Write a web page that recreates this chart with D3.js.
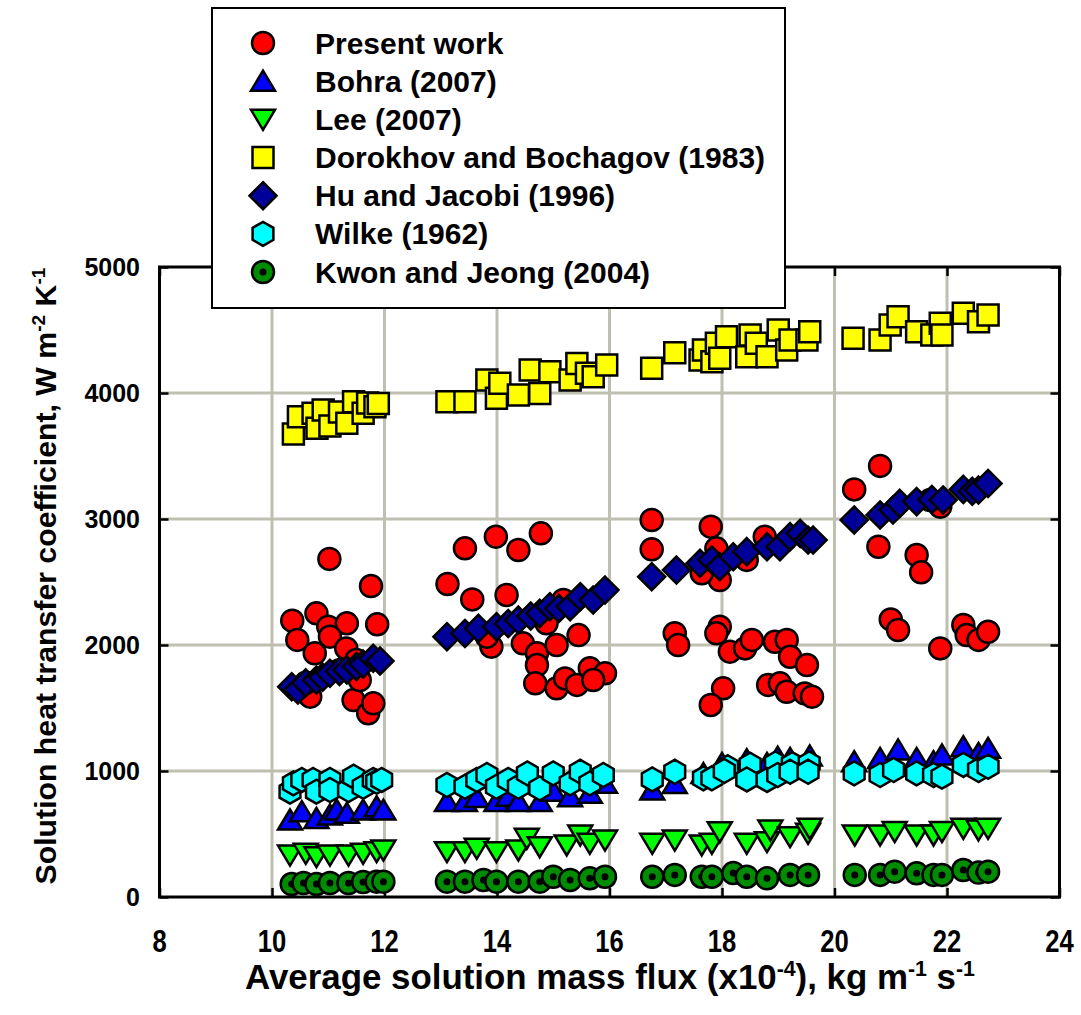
<!DOCTYPE html>
<html>
<head>
<meta charset="utf-8">
<script src="https://cdn.jsdelivr.net/npm/d3@7"></script>
<style>
  html, body { margin: 0; padding: 0; background: #fff; }
  svg { display: block; font-family: "Liberation Sans", Arial, sans-serif; font-weight: bold; }
</style>
</head>
<body>
<svg id="chart" width="1081" height="1015"></svg>
<script>
// Solution heat transfer coefficient vs. average solution mass flux
const xTicks = [8, 10, 12, 14, 16, 18, 20, 22, 24];
const yTicks = [0, 1000, 2000, 3000, 4000, 5000];

const seriesNames = [
  "Present work", "Bohra (2007)", "Lee (2007)", "Dorokhov and Bochagov (1983)",
  "Hu and Jacobi (1996)", "Wilke (1962)", "Kwon and Jeong (2004)"
];

const presentWork = [
  [11.02,2683],[11.76,2468],[11.87,2164],[10.36,2193],[10.79,2251],[11.0,2145],[11.33,2172],
  [10.45,2040],[11.03,2066],[10.76,1934],[11.32,1973],[11.5,1881],[10.68,1590],[11.45,1563],
  [11.71,1458],[11.8,1537],[11.56,1722],[10.6,1700],[11.2,1800],
  [13.43,2767],[13.98,2860],[14.38,2754],[14.78,2886],[13.12,2484],[13.56,2362],[14.17,2397],
  [13.9,1987],[14.46,2013],[14.71,1934],[15.06,2000],[15.45,2079],[14.71,1841],[14.68,1696],
  [15.06,1656],[15.21,1735],[15.42,1683],[15.65,1815],[15.92,1775],[15.71,1722],[15.18,2357],
  [14.88,2172],[13.82,2066],
  [16.75,2992],[16.75,2759],[17.8,2939],[17.9,2767],[17.96,2516],[17.64,2569],[18.76,2860],
  [18.44,2675],[17.16,2093],[17.22,2000],[17.96,2145],[17.9,2093],[18.14,1947],[18.41,1973],
  [18.53,2040],[18.94,2026],[19.15,2040],[19.21,1907],[19.51,1841],[18.82,1683],[19.03,1696],
  [19.15,1629],[19.47,1616],[19.6,1590],[18.02,1656],[17.8,1524],
  [20.81,3421],[20.35,3235],[20.78,2780],[21.46,2714],[21.54,2577],[21.0,2203],[21.13,2119],
  [21.88,1973],[22.29,2159],[22.35,2079],[22.56,2040],[22.73,2105],[21.88,3098],[21.7,3150]
];

const bohra = [
  [10.32,611],[10.53,677],[10.79,624],[11.03,651],[11.15,690],[11.33,664],[11.62,690],[11.86,717],[11.98,690],
  [13.11,757],[13.43,757],[13.64,790],[13.99,757],[14.2,800],[14.38,757],[14.76,757],[15.0,840],[15.3,796],[15.65,823],[15.92,902],
  [16.76,849],[17.16,900],[17.67,980],[18.0,1060],[18.44,1090],[18.8,1060],[18.99,1110],[19.21,1100],[19.56,1120],
  [20.35,1074],[20.81,1100],[21.13,1167],[21.46,1100],[21.76,1074],[21.91,1127],[22.29,1193],[22.56,1140],[22.73,1180]
];

const lee = [
  [10.32,333],[10.6,347],[10.79,320],[11.03,333],[11.36,333],[11.62,347],[11.86,360],[11.98,373],
  [13.11,360],[13.43,360],[13.64,386],[13.99,360],[14.38,373],[14.53,466],[14.76,399],[15.24,413],[15.48,492],[15.65,426],[15.92,452],
  [16.76,426],[17.16,452],[17.64,413],[17.82,426],[17.96,518],[18.44,426],[18.8,439],[18.86,532],[19.21,479],[19.53,505],[19.56,545],
  [20.36,492],[20.81,492],[21.07,519],[21.46,492],[21.76,492],[21.91,519],[22.29,545],[22.56,532],[22.73,545]
];

const dorokhov = [
  [10.38,3675],[10.47,3812],[10.73,3839],[10.8,3720],[10.91,3865],[11.03,3738],[11.2,3850],[11.33,3759],
  [11.45,3931],[11.62,3839],[11.7,3920],[11.83,3891],[11.89,3917],
  [13.11,3931],[13.43,3931],[13.82,4103],[13.99,3958],[14.05,4077],[14.38,3984],[14.59,4183],[14.76,3997],
  [14.94,4169],[15.3,4103],[15.42,4235],[15.59,4156],[15.71,4129],[15.95,4222],
  [16.75,4196],[17.16,4320],[17.61,4262],[17.67,4341],[17.82,4249],[17.9,4394],[17.96,4275],[18.08,4447],
  [18.44,4288],[18.5,4460],[18.61,4394],[18.8,4288],[19.0,4500],[19.15,4341],[19.21,4421],[19.51,4421],[19.56,4487],
  [20.33,4434],[20.81,4421],[20.99,4540],[21.13,4606],[21.46,4487],[21.73,4460],[21.88,4553],[21.91,4460],
  [22.29,4632],[22.56,4566],[22.73,4619]
];

const huJacobi = [
  [10.35,1669],[10.46,1643],[10.6,1700],[10.79,1722],[10.9,1745],[11.03,1775],[11.2,1790],[11.33,1802],
  [11.5,1830],[11.62,1849],[11.8,1894],[11.92,1873],
  [13.11,2066],[13.43,2092],[13.67,2132],[13.99,2145],[14.2,2170],[14.38,2198],[14.6,2230],[14.76,2251],
  [14.94,2304],[15.1,2290],[15.3,2304],[15.48,2383],[15.71,2357],[15.92,2436],
  [16.75,2542],[17.19,2595],[17.61,2648],[17.82,2675],[17.96,2621],[18.2,2700],[18.44,2741],[18.8,2780],
  [19.03,2780],[19.21,2860],[19.39,2886],[19.53,2833],[19.62,2833],
  [20.35,2992],[20.81,3032],[21.04,3071],[21.16,3124],[21.46,3138],[21.73,3155],[21.93,3151],[22.29,3235],
  [22.45,3220],[22.56,3230],[22.73,3282]
];

const wilke = [
  [10.32,836],[10.38,902],[10.53,929],[10.73,929],[10.79,836],[11.03,929],[11.03,849],[11.36,849],[11.45,955],
  [11.62,875],[11.8,929],[11.86,915],[11.95,929],
  [13.11,889],[13.43,875],[13.64,929],[13.82,968],[13.99,875],[14.2,929],[14.38,875],[14.54,981],[14.76,862],
  [15.0,981],[15.3,902],[15.48,994],[15.65,902],[15.89,968],
  [16.76,933],[17.16,994],[18.1,1030],[18.5,1050],[18.95,1060],[19.25,1055],[19.55,1060],
  [17.67,942],[17.82,942],[18.04,1000],[18.44,933],[18.8,929],[18.99,968],[19.21,994],[19.53,994],
  [20.35,981],[20.81,968],[21.05,1008],[21.46,981],[21.76,968],[21.91,955],[22.29,1048],[22.56,1008],[22.73,1034]
];

const kwonJeong = [
  [10.35,103],[10.56,111],[10.79,103],[11.03,111],[11.36,111],[11.62,119],[11.86,122],[11.98,122],
  [13.11,122],[13.43,122],[13.76,135],[13.99,122],[14.38,122],[14.76,122],[15.0,161],[15.3,135],[15.65,148],[15.92,161],
  [16.76,161],[17.16,175],[17.64,161],[17.82,161],[18.2,190],[18.44,161],[18.8,148],[19.21,175],[19.53,175],
  [20.36,175],[20.81,175],[21.07,201],[21.46,188],[21.76,175],[21.91,175],[22.29,214],[22.56,194],[22.73,201]
];

// ---- marker shapes (paths centred on 0,0) ----
function hexPath(r) {
  const pts = d3.range(6).map(i => {
    const a = Math.PI / 2 + i * Math.PI / 3;
    return [r * Math.cos(a), r * Math.sin(a)];
  });
  return "M" + pts.map(p => p.join(",")).join("L") + "Z";
}
const shapes = {
  circle: "M-11,0A11,11 0 1,0 11,0A11,11 0 1,0 -11,0Z",
  triUp: "M0,-10.5L12,9.5L-12,9.5Z",
  triDown: "M0,10.5L12,-9.5L-12,-9.5Z",
  square: "M-10.5,-10.5H10.5V10.5H-10.5Z",
  diamond: "M0,-13.5L13.5,0L0,13.5L-13.5,0Z",
  hexagon: hexPath(12)
};

const series = [
  { name: seriesNames[0], data: presentWork, shape: "circle",  fill: "#ff0000" },
  { name: seriesNames[1], data: bohra,       shape: "triUp",   fill: "#0000ff" },
  { name: seriesNames[2], data: lee,         shape: "triDown", fill: "#00ff00" },
  { name: seriesNames[3], data: dorokhov,    shape: "square",  fill: "#ffff00" },
  { name: seriesNames[4], data: huJacobi,    shape: "diamond", fill: "#000099" },
  { name: seriesNames[5], data: wilke,       shape: "hexagon", fill: "#00ffff" },
  { name: seriesNames[6], data: kwonJeong,   shape: "circle",  fill: "#008c00", dot: true }
];

const svg = d3.select("#chart");
const plot = { left: 159.5, right: 1059.5, top: 267, bottom: 897 };

const x = d3.scaleLinear().domain([8, 24]).range([plot.left, plot.right]);
const y = d3.scaleLinear().domain([0, 5000]).range([plot.bottom, plot.top]);

// grid
const gridColor = "#bfbfb2";
svg.append("g").selectAll("line").data(xTicks.slice(1, -1)).join("line")
  .attr("x1", d => x(d)).attr("x2", d => x(d))
  .attr("y1", plot.top).attr("y2", plot.bottom)
  .attr("stroke", gridColor).attr("stroke-width", 3);
svg.append("g").selectAll("line").data(yTicks.slice(1, -1)).join("line")
  .attr("y1", d => y(d)).attr("y2", d => y(d))
  .attr("x1", plot.left).attr("x2", plot.right)
  .attr("stroke", gridColor).attr("stroke-width", 3);

// axes with inward ticks on all four sides
const tickLen = 9;
const axisBottom = svg.append("g").attr("transform", `translate(0,${plot.bottom})`)
  .call(d3.axisBottom(x).tickValues(xTicks).tickSizeInner(-tickLen).tickSizeOuter(0).tickFormat(""));
const axisTop = svg.append("g").attr("transform", `translate(0,${plot.top})`)
  .call(d3.axisTop(x).tickValues(xTicks).tickSizeInner(-tickLen).tickSizeOuter(0).tickFormat(""));
const axisLeft = svg.append("g").attr("transform", `translate(${plot.left},0)`)
  .call(d3.axisLeft(y).tickValues(yTicks).tickSizeInner(-tickLen).tickSizeOuter(0).tickFormat(""));
const axisRight = svg.append("g").attr("transform", `translate(${plot.right},0)`)
  .call(d3.axisRight(y).tickValues(yTicks).tickSizeInner(-tickLen).tickSizeOuter(0).tickFormat(""));
[axisBottom, axisTop, axisLeft, axisRight].forEach(g => {
  g.select(".domain").remove();
  g.selectAll(".tick line").attr("stroke", "#000").attr("stroke-width", 2.5);
});

// frame
svg.append("rect")
  .attr("x", plot.left).attr("y", plot.top)
  .attr("width", plot.right - plot.left).attr("height", plot.bottom - plot.top)
  .attr("fill", "none").attr("stroke", "#000").attr("stroke-width", 3);

// tick labels (x labels are set in a narrowed face)
svg.append("g").selectAll("text").data(xTicks).join("text")
  .attr("transform", d => `translate(${x(d)},952) scale(0.8,1)`)
  .attr("text-anchor", "middle").attr("font-size", 32)
  .text(d => d);
svg.append("g").selectAll("text").data(yTicks).join("text")
  .attr("x", 140).attr("y", d => y(d) + 9)
  .attr("text-anchor", "end").attr("font-size", 25)
  .text(d => d);

// axis titles: built with superscripts, then squeezed horizontally to a target length
function fitTitle(textSel, cx, cy, rotate, targetLen) {
  const natural = textSel.node().getComputedTextLength();
  const k = targetLen / natural;
  textSel.attr("transform",
    `translate(${cx},${cy}) rotate(${rotate}) scale(${k},1)`);
}
const xTitle = svg.append("text")
  .attr("text-anchor", "middle").attr("font-size", 36);
xTitle.append("tspan").text("Average solution mass flux (x10");
xTitle.append("tspan").attr("dy", -13).attr("font-size", 22).text("-4");
xTitle.append("tspan").attr("dy", 13).text("), kg m");
xTitle.append("tspan").attr("dy", -13).attr("font-size", 22).text("-1");
xTitle.append("tspan").attr("dy", 13).text(" s");
xTitle.append("tspan").attr("dy", -13).attr("font-size", 22).text("-1");
fitTitle(xTitle, 610, 989, 0, 730);

const yTitle = svg.append("text")
  .attr("text-anchor", "middle").attr("font-size", 30);
yTitle.append("tspan").text("Solution heat transfer coefficient, W m");
yTitle.append("tspan").attr("dy", -11).attr("font-size", 19).text("-2");
yTitle.append("tspan").attr("dy", 11).text(" K");
yTitle.append("tspan").attr("dy", -11).attr("font-size", 19).text("-1");
fitTitle(yTitle, 56, 576, -90, 617);

// markers
function drawMarker(sel, s) {
  sel.append("path").attr("d", shapes[s.shape])
    .attr("fill", s.fill).attr("stroke", "#000").attr("stroke-width", 2.5)
    .attr("stroke-linejoin", "miter");
  if (s.dot) sel.append("circle").attr("r", 3.5).attr("fill", "#000");
}
series.forEach(s => {
  svg.append("g").selectAll("g").data(s.data).join("g")
    .attr("transform", d => `translate(${x(d[0])},${y(d[1])})`)
    .each(function () { drawMarker(d3.select(this), s); });
});

// legend
const legend = svg.append("g");
legend.append("rect")
  .attr("x", 212).attr("y", 8).attr("width", 573).attr("height", 300)
  .attr("fill", "#fff").attr("stroke", "#000").attr("stroke-width", 2);
const rowY = d3.scaleLinear().domain([0, 6]).range([43, 272]);
series.forEach((s, i) => {
  const g = legend.append("g").attr("transform", `translate(263,${rowY(i)})`);
  drawMarker(g, s);
  legend.append("text")
    .attr("x", 315).attr("y", rowY(i) + 10.5)
    .attr("font-size", 30).text(s.name);
});
</script>
</body>
</html>
